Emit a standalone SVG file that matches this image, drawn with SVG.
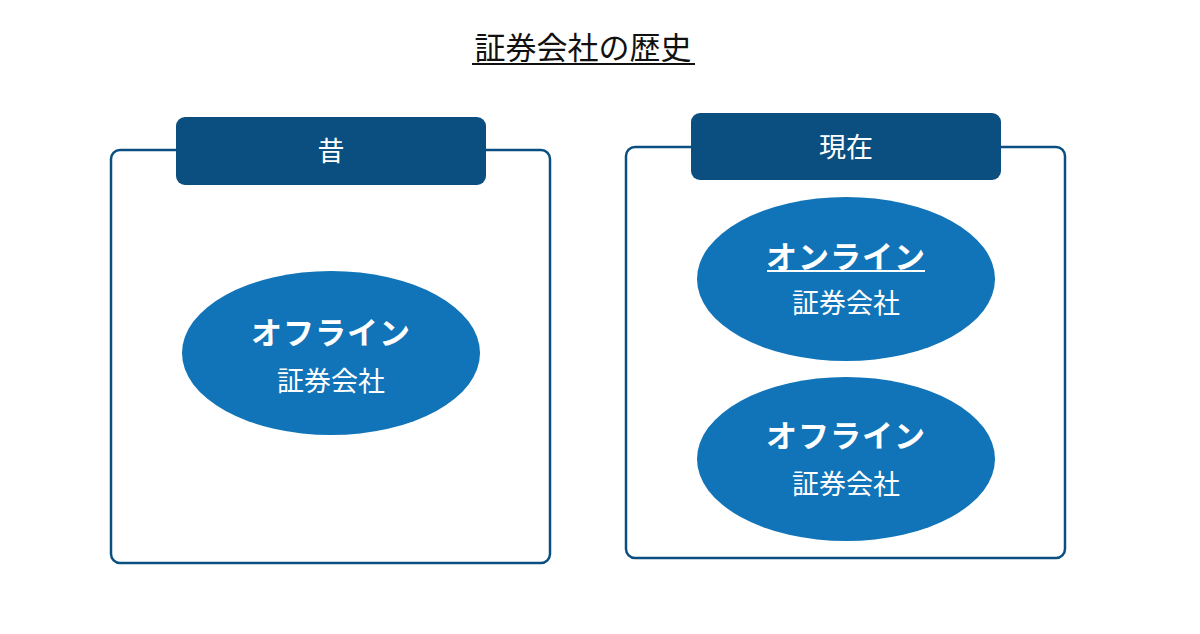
<svg xmlns="http://www.w3.org/2000/svg" width="1200" height="634" viewBox="0 0 1200 634">
<style>
.frame{fill:#fff;stroke:#0b4f80;stroke-width:2.5}
.hdr{fill:#0a4f80}
.ell{fill:#1174b8}
.ht{font-family:"Noto Sans CJK JP",sans-serif;font-size:27px;fill:#fff;text-anchor:middle}
.big{font-family:"Liberation Serif","Noto Sans CJK JP",serif;font-size:31px;letter-spacing:1px;font-weight:bold;fill:#fff;text-anchor:middle}
.sub{font-family:"Noto Sans CJK JP",sans-serif;font-size:27px;fill:#fff;text-anchor:middle}
.title{font-family:"Liberation Serif","Noto Sans CJK JP",serif;font-size:31px;fill:#111;text-anchor:middle}
</style>
<rect width="1200" height="634" fill="#fff"/>
<g id="title">
<text class="title" x="583" y="59">証券会社の歴史</text>
<line x1="472" y1="64" x2="695" y2="64" stroke="#111" stroke-width="2"/>
</g>
<g id="past">
<rect class="frame" x="111" y="150" width="439" height="413" rx="9"/>
<rect class="hdr" x="176" y="117" width="310" height="68" rx="9"/>
<text class="ht" x="331" y="161">昔</text>
</g>
<g id="past-offline">
<ellipse class="ell" cx="331" cy="353" rx="149" ry="82"/>
<text class="big" x="331" y="344">オフライン</text>
<text class="sub" x="331" y="391">証券会社</text>
</g>
<g id="present">
<rect class="frame" x="626" y="147" width="439" height="411" rx="9"/>
<rect class="hdr" x="691" y="113" width="310" height="67" rx="9"/>
<text class="ht" x="846" y="157">現在</text>
</g>
<g id="present-online">
<ellipse class="ell" cx="846" cy="279" rx="149" ry="82"/>
<text class="big" x="846" y="268">オンライン</text>
<line x1="767" y1="271" x2="925" y2="271" stroke="#fff" stroke-width="2"/>
<text class="sub" x="846" y="313">証券会社</text>
</g>
<g id="present-offline">
<ellipse class="ell" cx="846" cy="459" rx="149" ry="82"/>
<text class="big" x="846" y="447">オフライン</text>
<text class="sub" x="846" y="494">証券会社</text>
</g>
<g id="connectors"></g>
</svg>
